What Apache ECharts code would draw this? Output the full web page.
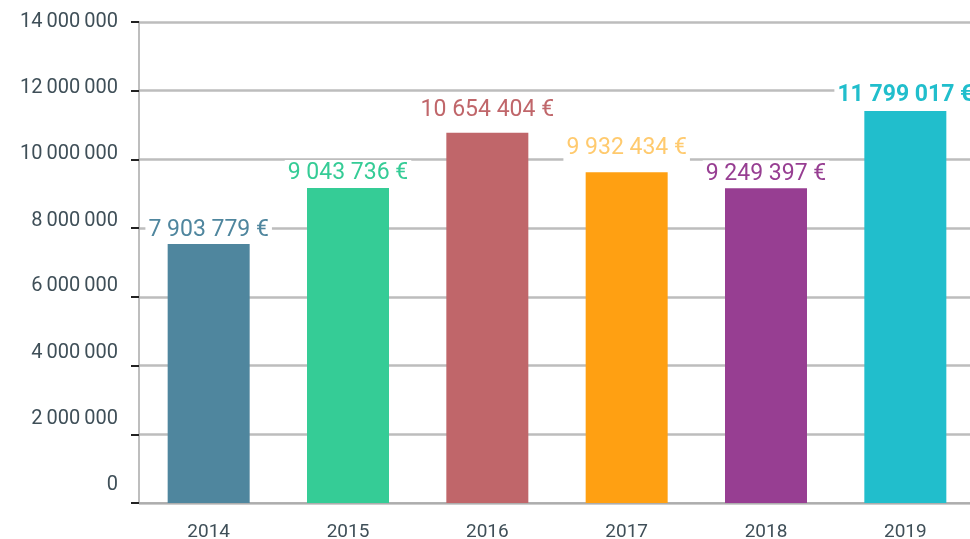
<!DOCTYPE html>
<html>
<head>
<meta charset="utf-8">
<script src="https://cdn.jsdelivr.net/npm/echarts@6/dist/echarts.min.js"></script>
<style>
  html, body { margin: 0; padding: 0; background: #fff; }
  #chart { width: 970px; height: 539px; }
</style>
</head>
<body>
<div id="chart"></div>
<script>
// données
const years = ['2014', '2015', '2016', '2017', '2018', '2019'];
const barValues = [7540000, 9170000, 10780000, 9630000, 9160000, 11410000];
const valueLabels = ['7 903 779 €', '9 043 736 €', '10 654 404 €', '9 932 434 €', '9 249 397 €', '11 799 017 €'];
const barColors = ['#4f869e', '#35cc96', '#c0666a', '#ffa012', '#973e92', '#21becc'];
const labelColors = ['#4f869e', '#35cc96', '#c0666a', '#ffca6e', '#973e92', '#21becc'];

// petits réglages de mise en page
const labelGap = [0, 1, 9, 10, 1, 2];
const boldLabel = [false, false, false, false, false, true];

const chart = echarts.init(document.getElementById('chart'), null, { renderer: 'canvas' });

function spaced(v) {
  return String(v).replace(/\B(?=(\d{3})+(?!\d))/g, '\u2009');
}

// décalage des étiquettes de l'axe y (plus haut en bas)
const yRich = {};
for (let i = 0; i < 8; i++) {
  yRich['l' + i] = { padding: [0, 0, Math.round((18 - i * 18 / 7) * 2), 0] };
}

const option = {
  animation: false,
  grid: { left: 139, top: 22, bottom: 36, width: 836, outerBoundsMode: 'none' },
  xAxis: {
    type: 'category',
    data: years,
    axisLine: { lineStyle: { color: '#a8a8a8', width: 1.5 } },
    axisTick: { length: 8, lineStyle: { color: '#333', width: 2 } },
    axisLabel: { color: '#3f4f58', fontSize: 19, fontFamily: 'Roboto', margin: 20 }
  },
  yAxis: {
    type: 'value',
    min: 0,
    max: 14000000,
    interval: 2000000,
    axisLine: { show: true, lineStyle: { color: '#a8a8a8', width: 1.5 } },
    axisTick: { show: true, length: 8, lineStyle: { color: '#222', width: 2 } },
    splitLine: { lineStyle: { color: '#bdbdbd', width: 2.5 } },
    axisLabel: {
      color: '#3f4f58',
      fontSize: 20,
      fontFamily: 'Roboto',
      margin: 21,
      formatter: function (v, idx) {
        return '{l' + idx + '|' + spaced(v) + '}';
      },
      rich: yRich
    }
  },
  series: [{
    type: 'bar',
    barWidth: 82,
    data: barValues.map(function (v, i) {
      return {
        value: v,
        itemStyle: { color: barColors[i] },
        label: {
          show: true,
          position: 'top',
          distance: labelGap[i],
          formatter: valueLabels[i],
          color: labelColors[i],
          fontSize: 23,
          fontFamily: 'Roboto',
          fontWeight: boldLabel[i] ? 'bold' : 'normal',
          backgroundColor: '#fff',
          padding: [2, 3]
        }
      };
    })
  }]
};

chart.setOption(option);
</script>
</body>
</html>
